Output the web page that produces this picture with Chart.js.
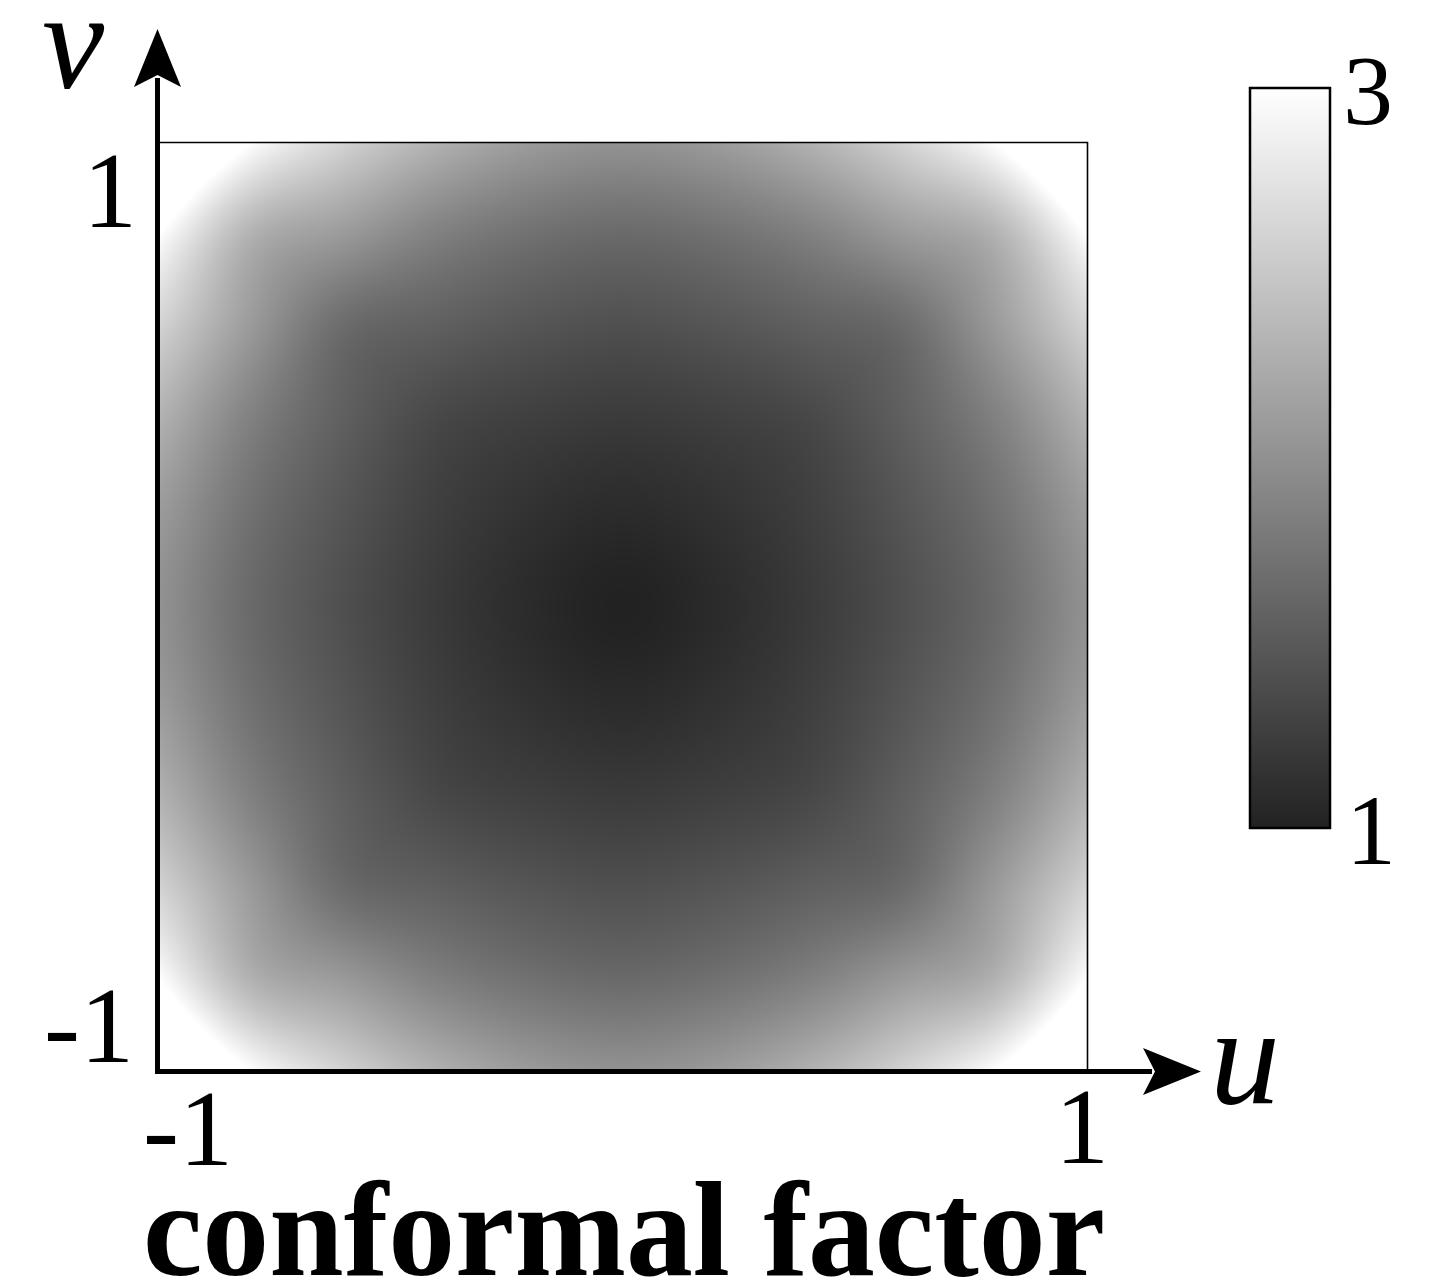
<!DOCTYPE html>
<html>
<head>
<meta charset="utf-8">
<script src="https://cdn.jsdelivr.net/npm/chart.js@4.4.1/dist/chart.umd.min.js"></script>
<style>
  html, body { margin: 0; padding: 0; background: #fff; }
  canvas { display: block; }
</style>
</head>
<body>
<canvas id="factorChart" width="1446" height="1285"></canvas>
<script>
// grid of sample points (u across, v down the rows, top row is v = 1)
const uValues = [-1, -0.8, -0.6, -0.4, -0.2, 0, 0.2, 0.4, 0.6, 0.8, 1];
const vValues = [1, 0.8, 0.6, 0.4, 0.2, 0, -0.2, -0.4, -0.6, -0.8, -1];

// conformal factor (values above 3 are clipped white)
const factorRows = [
  [3.70, 3.00, 2.60, 2.30, 2.10, 2.02, 2.10, 2.30, 2.60, 3.00, 3.70],
  [3.00, 2.30, 2.08, 1.85, 1.71, 1.65, 1.71, 1.85, 2.08, 2.30, 3.00],
  [2.60, 2.08, 1.66, 1.55, 1.46, 1.41, 1.46, 1.55, 1.66, 2.08, 2.60],
  [2.30, 1.85, 1.55, 1.34, 1.26, 1.22, 1.26, 1.34, 1.55, 1.85, 2.30],
  [2.10, 1.71, 1.46, 1.26, 1.14, 1.08, 1.14, 1.26, 1.46, 1.71, 2.10],
  [2.02, 1.65, 1.41, 1.22, 1.08, 1.00, 1.08, 1.22, 1.41, 1.65, 2.02],
  [2.10, 1.71, 1.46, 1.26, 1.14, 1.08, 1.14, 1.26, 1.46, 1.71, 2.10],
  [2.30, 1.85, 1.55, 1.34, 1.26, 1.22, 1.26, 1.34, 1.55, 1.85, 2.30],
  [2.60, 2.08, 1.66, 1.55, 1.46, 1.41, 1.46, 1.55, 1.66, 2.08, 2.60],
  [3.00, 2.30, 2.08, 1.85, 1.71, 1.65, 1.71, 1.85, 2.08, 2.30, 3.00],
  [3.70, 3.00, 2.60, 2.30, 2.10, 2.02, 2.10, 2.30, 2.60, 3.00, 3.70]
];

const axisTickLabels = ['-1', '1'];
const colorbarRange = [1, 3];
const axisNames = ['u', 'v'];
const titleText = 'conformal factor';

const SERIF = '"Liberation Serif", "DejaVu Serif", serif';

// points for the dataset, one per grid vertex
const gridPoints = [];
vValues.forEach((v, r) => {
  uValues.forEach((u, c) => {
    gridPoints.push({ x: u, y: v, z: factorRows[r][c] });
  });
});

function greyFor(val) {
  let t = (val - colorbarRange[0]) / (colorbarRange[1] - colorbarRange[0]);
  t = Math.max(0, Math.min(1, t));
  return Math.round(34 + t * 221);
}

function findCell(list, val) {
  // list may run up or down
  for (let i = 0; i < list.length - 1; i++) {
    const a = list[i], b = list[i + 1];
    const lo = Math.min(a, b), hi = Math.max(a, b);
    if (val >= lo && val <= hi) return [i, (val - a) / (b - a)];
  }
  const asc = list[0] < list[1];
  const below = val < Math.min(list[0], list[list.length - 1]);
  return (below === asc) ? [0, 0] : [list.length - 2, 1];
}

// grid value, with a straight extension one step past the edge
function cellValue(r, c) {
  const nr = factorRows.length, nc = factorRows[0].length;
  if (r < 0) return 2 * cellValue(0, c) - cellValue(1, c);
  if (r > nr - 1) return 2 * cellValue(nr - 1, c) - cellValue(nr - 2, c);
  if (c < 0) return 2 * cellValue(r, 0) - cellValue(r, 1);
  if (c > nc - 1) return 2 * cellValue(r, nc - 1) - cellValue(r, nc - 2);
  return factorRows[r][c];
}

function cubic(p0, p1, p2, p3, t) {
  return 0.5 * (2 * p1 + (p2 - p0) * t + (2 * p0 - 5 * p1 + 4 * p2 - p3) * t * t + (3 * p1 - p0 - 3 * p2 + p3) * t * t * t);
}

function sampleAt(u, v) {
  const [c, tu] = findCell(uValues, u);
  const [r, tv] = findCell(vValues, v);
  const rowVals = [];
  for (let k = -1; k <= 2; k++) {
    rowVals.push(cubic(cellValue(r + k, c - 1), cellValue(r + k, c), cellValue(r + k, c + 1), cellValue(r + k, c + 2), tu));
  }
  return cubic(rowVals[0], rowVals[1], rowVals[2], rowVals[3], tv);
}

const heatmapPlugin = {
  id: 'heatmap',
  beforeDatasetsDraw(chart) {
    const { ctx, chartArea: a, scales } = chart;
    const w = Math.round(a.right - a.left), h = Math.round(a.bottom - a.top);
    const off = document.createElement('canvas');
    off.width = w; off.height = h;
    const octx = off.getContext('2d');
    const img = octx.createImageData(w, h);
    for (let j = 0; j < h; j++) {
      const v = scales.y.getValueForPixel(a.top + j + 0.5);
      for (let i = 0; i < w; i++) {
        const u = scales.x.getValueForPixel(a.left + i + 0.5);
        const g = greyFor(sampleAt(u, v));
        const k = (j * w + i) * 4;
        img.data[k] = g; img.data[k + 1] = g; img.data[k + 2] = g; img.data[k + 3] = 255;
      }
    }
    octx.putImageData(img, 0, 0);
    ctx.drawImage(off, a.left, a.top);
  }
};

const decorPlugin = {
  id: 'decor',
  afterDraw(chart) {
    const { ctx, scales } = chart;
    const x0 = scales.x.getPixelForValue(-1), x1 = scales.x.getPixelForValue(1);
    const y0 = scales.y.getPixelForValue(-1), y1 = scales.y.getPixelForValue(1);
    ctx.save();
    ctx.fillStyle = '#000';
    ctx.strokeStyle = '#000';

    // thin frame on top and right
    ctx.lineWidth = 1.6;
    ctx.beginPath();
    ctx.moveTo(x0, y1 + 0.5);
    ctx.lineTo(x1 - 0.5, y1 + 0.5);
    ctx.lineTo(x1 - 0.5, y0);
    ctx.stroke();

    // thick axes with arrows
    const ax = x0 - 0.5, ay = y0 - 0.5;
    ctx.lineWidth = 5;
    ctx.beginPath();
    ctx.moveTo(ax, ay + 2.5);
    ctx.lineTo(ax, 78);
    ctx.moveTo(ax - 2.5, ay);
    ctx.lineTo(1152, ay);
    ctx.stroke();
    ctx.beginPath();
    ctx.moveTo(ax, 29);
    ctx.lineTo(ax + 23.5, 87);
    ctx.lineTo(ax, 75);
    ctx.lineTo(ax - 23.5, 87);
    ctx.closePath();
    ctx.fill();
    ctx.beginPath();
    ctx.moveTo(1201, ay);
    ctx.lineTo(1143, ay - 23.5);
    ctx.lineTo(1155, ay);
    ctx.lineTo(1143, ay + 23.5);
    ctx.closePath();
    ctx.fill();

    // tick labels
    ctx.font = '108px ' + SERIF;
    ctx.textBaseline = 'alphabetic';
    ctx.textAlign = 'right';
    ctx.fillText(axisTickLabels[1], x0 - 21, y1 + 85);
    ctx.fillText(axisTickLabels[0], x0 - 24, y0 - 10);
    ctx.textAlign = 'center';
    ctx.fillText(axisTickLabels[0], x0 + 30, y0 + 93);
    ctx.fillText(axisTickLabels[1], x1 - 6, y0 + 91);

    // axis names
    ctx.font = 'italic 140px ' + SERIF;
    ctx.textAlign = 'left';
    ctx.fillText(axisNames[1], 42, 88);
    ctx.fillText(axisNames[0], 1210, 1103);

    // colour bar
    const cb = { left: 1250, right: 1330, top: 88, bottom: 828 };
    for (let y = cb.top; y < cb.bottom; y++) {
      const val = colorbarRange[1] - (y + 0.5 - cb.top) / (cb.bottom - cb.top) * (colorbarRange[1] - colorbarRange[0]);
      const g = greyFor(val);
      ctx.fillStyle = 'rgb(' + g + ',' + g + ',' + g + ')';
      ctx.fillRect(cb.left, y, cb.right - cb.left, 1);
    }
    ctx.lineWidth = 2.5;
    ctx.strokeStyle = '#000';
    ctx.strokeRect(cb.left, cb.top, cb.right - cb.left, cb.bottom - cb.top);
    ctx.fillStyle = '#000';
    ctx.font = '100px ' + SERIF;
    ctx.textAlign = 'left';
    ctx.fillText(String(colorbarRange[1]), 1343, 124);
    ctx.fillText(String(colorbarRange[0]), 1346, 864);

    // title
    ctx.font = 'bold 135px ' + SERIF;
    const tw = ctx.measureText(titleText).width;
    const target = 962;
    ctx.translate(624, 1275);
    ctx.scale(target / tw, 1);
    ctx.textAlign = 'center';
    ctx.fillText(titleText, 0, 0);
    ctx.restore();
  }
};

new Chart(document.getElementById('factorChart'), {
  type: 'scatter',
  data: {
    datasets: [{
      label: 'conformal factor',
      data: gridPoints,
      pointRadius: 0,
      pointHoverRadius: 0
    }]
  },
  options: {
    responsive: false,
    devicePixelRatio: 1,
    animation: false,
    events: [],
    layout: { padding: { left: 158, right: 358, top: 142, bottom: 213 } },
    plugins: { legend: { display: false }, tooltip: { enabled: false } },
    scales: {
      x: { type: 'linear', min: -1, max: 1, display: false },
      y: { type: 'linear', min: -1, max: 1, display: false }
    }
  },
  plugins: [heatmapPlugin, decorPlugin]
});
</script>
</body>
</html>
